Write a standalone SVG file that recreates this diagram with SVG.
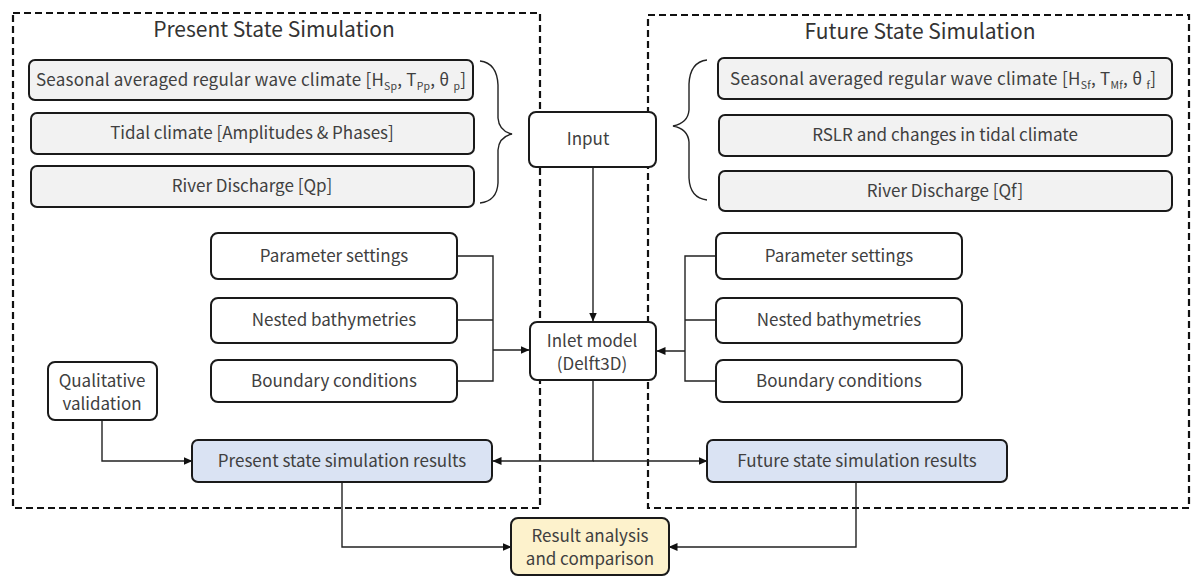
<svg xmlns="http://www.w3.org/2000/svg" width="1196" height="577" viewBox="0 0 1196 577">
<defs>
<style>
.frame{fill:none;stroke:#111;stroke-width:2.2;stroke-dasharray:7,4}
.box{fill:#fff;stroke:#1a1a1a;stroke-width:2}
.gray{fill:#f2f2f2;stroke:#1a1a1a;stroke-width:2}
.blue{fill:#dae3f3;stroke:#1a1a1a;stroke-width:2}
.yel{fill:#fdf2cc;stroke:#1a1a1a;stroke-width:2}
.t{font-family:"Noto Sans CJK JP","Liberation Sans",sans-serif;font-size:17px;fill:#404040;text-anchor:middle}
.ti{font-family:"Noto Sans CJK JP","Liberation Sans",sans-serif;font-size:21px;fill:#333;text-anchor:middle}
.s{font-size:10.5px}
.c{fill:none;stroke:#222;stroke-width:1.4}
.br{fill:none;stroke:#222;stroke-width:1.4}
</style>
<marker id="ah" markerWidth="9" markerHeight="8" refX="8.5" refY="4" orient="auto" markerUnits="userSpaceOnUse">
<path d="M0,0 L9,4 L0,8 Z" fill="#111"/>
</marker>
</defs>

<g id="frames">
<rect class="frame" x="13" y="13" width="527" height="495"/>
<rect class="frame" x="648" y="15" width="541" height="493"/>
<text class="ti" x="274" y="37">Present State Simulation</text>
<text class="ti" x="920" y="39">Future State Simulation</text>
</g>

<g id="connectors">
<path class="br" d="M480,61 Q497,63 498,85 L498,118 Q499,131 512,134 Q499,137 498,150 L498,183 Q497,201 480,203"/>
<path class="br" d="M707,60 Q690,62 689,84 L689,110 Q688,123 673,126 Q688,129 689,142 L689,178 Q690,198 707,200"/>
<path class="c" d="M593,167 L593,321" marker-end="url(#ah)"/>
<path class="c" d="M457,256 L493,256 L493,381 L457,381 M457,320 L493,320 M493,350 L529,350" marker-end="url(#ah)"/>
<path class="c" d="M716,256 L685,256 L685,381 L716,381 M716,320 L685,320 M685,351 L657,351" marker-end="url(#ah)"/>
<path class="c" d="M102,420 L102,461 L192,461" marker-end="url(#ah)"/>
<path class="c" d="M593,380 L593,461 L493,461" marker-end="url(#ah)"/>
<path class="c" d="M593,461 L707,461" marker-end="url(#ah)"/>
<path class="c" d="M342,482 L342,547 L511,547" marker-end="url(#ah)"/>
<path class="c" d="M856,482 L856,547 L669,547" marker-end="url(#ah)"/>
</g>

<g id="wave-present">
<rect class="gray" x="29" y="60" width="444" height="40" rx="6"/>
<text class="t" x="251" y="86" textLength="430" lengthAdjust="spacing">Seasonal averaged regular wave climate [H<tspan class="s" dy="4">Sp</tspan><tspan dy="-4">, T</tspan><tspan class="s" dy="4">Pp</tspan><tspan dy="-4">,  θ </tspan><tspan class="s" dy="4">p</tspan><tspan dy="-4">]</tspan></text>
</g>
<g id="tidal-present">
<rect class="gray" x="31" y="113" width="443" height="41" rx="6"/>
<text class="t" x="252" y="139">Tidal climate [Amplitudes &amp; Phases]</text>
</g>
<g id="river-present">
<rect class="gray" x="31" y="166" width="443" height="41" rx="6"/>
<text class="t" x="252" y="192">River Discharge [Qp]</text>
</g>

<g id="wave-future">
<rect class="gray" x="718" y="58" width="454" height="41" rx="6"/>
<text class="t" x="943" y="85" textLength="426" lengthAdjust="spacing">Seasonal averaged regular wave climate [H<tspan class="s" dy="4">Sf</tspan><tspan dy="-4">, T</tspan><tspan class="s" dy="4">Mf</tspan><tspan dy="-4">,  θ </tspan><tspan class="s" dy="4">f</tspan><tspan dy="-4">]</tspan></text>
</g>
<g id="tidal-future">
<rect class="gray" x="719" y="115" width="453" height="41" rx="6"/>
<text class="t" x="945" y="141">RSLR and changes in tidal climate</text>
</g>
<g id="river-future">
<rect class="gray" x="719" y="171" width="453" height="40" rx="6"/>
<text class="t" x="945" y="197">River Discharge [Qf]</text>
</g>

<g id="input">
<rect class="box" x="529" y="112" width="127" height="55" rx="7"/>
<text class="t" x="588" y="145">Input</text>
</g>

<g id="param-present">
<rect class="box" x="211" y="233" width="246" height="46" rx="7"/>
<text class="t" x="334" y="262">Parameter settings</text>
</g>
<g id="bathy-present">
<rect class="box" x="211" y="298" width="246" height="45" rx="7"/>
<text class="t" x="334" y="326">Nested bathymetries</text>
</g>
<g id="bc-present">
<rect class="box" x="211" y="360" width="246" height="42" rx="7"/>
<text class="t" x="334" y="387">Boundary conditions</text>
</g>

<g id="param-future">
<rect class="box" x="716" y="233" width="246" height="46" rx="7"/>
<text class="t" x="839" y="262">Parameter settings</text>
</g>
<g id="bathy-future">
<rect class="box" x="716" y="298" width="246" height="45" rx="7"/>
<text class="t" x="839" y="326">Nested bathymetries</text>
</g>
<g id="bc-future">
<rect class="box" x="716" y="360" width="246" height="42" rx="7"/>
<text class="t" x="839" y="387">Boundary conditions</text>
</g>

<g id="inlet">
<rect class="box" x="530" y="322" width="126" height="58" rx="7"/>
<text class="t" x="592" y="347">Inlet model</text>
<text class="t" x="592" y="370">(Delft3D)</text>
</g>

<g id="validation">
<rect class="box" x="48" y="362" width="109" height="58" rx="7"/>
<text class="t" x="102" y="387">Qualitative</text>
<text class="t" x="102" y="410">validation</text>
</g>

<g id="present-results">
<rect class="blue" x="192" y="440" width="300" height="42" rx="6"/>
<text class="t" x="342" y="467" font-size="16">Present state simulation results</text>
</g>
<g id="future-results">
<rect class="blue" x="707" y="440" width="300" height="42" rx="6"/>
<text class="t" x="857" y="467" font-size="16">Future state simulation results</text>
</g>

<g id="analysis">
<rect class="yel" x="511" y="518" width="158" height="57" rx="7"/>
<text class="t" x="590" y="542" font-size="16">Result analysis</text>
<text class="t" x="590" y="565" font-size="16">and comparison</text>
</g>
</svg>
